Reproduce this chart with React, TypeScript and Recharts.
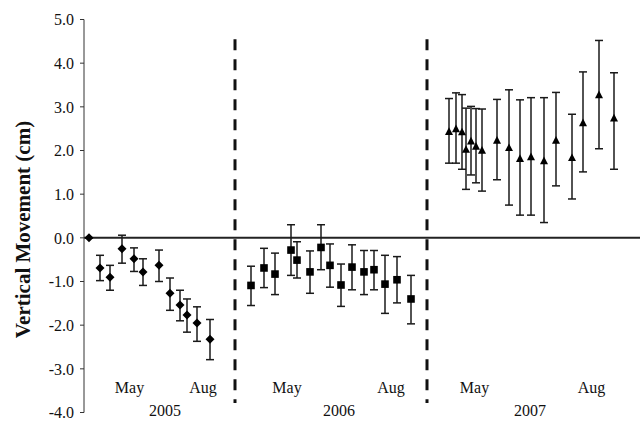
import React from "react";
import {
  ScatterChart,
  Scatter,
  XAxis,
  YAxis,
  ErrorBar,
  ReferenceLine,
} from "recharts";

// sampling positions along a compressed survey timeline (0 = left axis)
const t2005 = [5, 16, 26, 38, 50, 59, 75, 86, 96, 103, 113, 126];
const v2005 = [0, -0.69, -0.9, -0.25, -0.48, -0.78, -0.63, -1.27, -1.54, -1.77, -1.95, -2.32];
const lo2005 = [0, -0.98, -1.2, -0.58, -0.77, -1.09, -1.0, -1.66, -1.9, -2.16, -2.37, -2.79];
const hi2005 = [0, -0.4, -0.63, 0.06, -0.23, -0.48, -0.28, -0.92, -1.2, -1.4, -1.58, -1.87];

const t2006 = [167, 180, 191, 207, 213, 226, 237, 246, 257, 268, 280, 290, 301, 313, 327];
const v2006 = [-1.09, -0.69, -0.83, -0.28, -0.51, -0.78, -0.22, -0.63, -1.08, -0.67, -0.78, -0.73, -1.06, -0.96, -1.4];
const lo2006 = [-1.55, -1.14, -1.3, -0.86, -0.92, -1.27, -0.73, -1.13, -1.57, -1.19, -1.3, -1.19, -1.73, -1.49, -1.97];
const hi2006 = [-0.65, -0.24, -0.35, 0.3, -0.09, -0.3, 0.3, -0.14, -0.6, -0.16, -0.29, -0.29, -0.4, -0.43, -0.86];

const t2007 = [365, 372, 378, 382, 387, 392, 398, 413, 425, 436, 447, 460, 472, 488, 499, 515, 530];
const v2007 = [2.43, 2.49, 2.42, 2.02, 2.21, 2.09, 2.0, 2.23, 2.06, 1.81, 1.85, 1.76, 2.23, 1.83, 2.63, 3.27, 2.74];
const lo2007 = [1.71, 1.71, 1.57, 1.11, 1.44, 1.26, 1.07, 1.33, 0.75, 0.52, 0.52, 0.35, 1.19, 0.89, 1.51, 2.04, 1.57];
const hi2007 = [3.19, 3.32, 3.28, 2.97, 3.01, 2.96, 2.95, 3.17, 3.39, 3.16, 3.21, 3.21, 3.33, 2.83, 3.8, 4.52, 3.78];

const monthTicks = [45.5, 119, 203, 307, 390.5, 507.5];
const monthLabels = ["May", "Aug", "May", "Aug", "May", "Aug"];
const yearTicks = [81, 255, 446];
const yearLabels = ["2005", "2006", "2007"];
const seasonBreaks = [151, 343];
const yTicks = [-4, -3, -2, -1, 0, 1, 2, 3, 4, 5];

const FONT = '"Liberation Serif", "Times New Roman", serif';
const INK = "#1a1a1a";

function build(t: number[], v: number[], lo: number[], hi: number[]) {
  return t.map((x, i) => ({ t: x, v: v[i], err: [v[i] - lo[i], hi[i] - v[i]] }));
}

const d2005 = build(t2005, v2005, lo2005, hi2005);
const d2006 = build(t2006, v2006, lo2006, hi2006);
const d2007 = build(t2007, v2007, lo2007, hi2007);

const allXTicks = [...monthTicks, ...yearTicks].sort((a, b) => a - b);

const Diamond = (p: any) => (
  <polygon
    points={`${p.cx},${p.cy - 4.5} ${p.cx + 4.5},${p.cy} ${p.cx},${p.cy + 4.5} ${p.cx - 4.5},${p.cy}`}
    fill="#000"
  />
);
const Square = (p: any) => <rect x={p.cx - 3.8} y={p.cy - 3.8} width={7.6} height={7.6} fill="#000" />;
const Triangle = (p: any) => (
  <polygon
    points={`${p.cx},${p.cy - 4.5} ${p.cx + 4},${p.cy + 3.2} ${p.cx - 4},${p.cy + 3.2}`}
    fill="#000"
  />
);

// month names sit inside the plot, the year line just under them
const TimeTick = (p: any) => {
  const v = p.payload.value;
  const mi = monthTicks.findIndex((t) => Math.abs(t - v) < 0.01);
  const yi = yearTicks.findIndex((t) => Math.abs(t - v) < 0.01);
  const text = mi >= 0 ? monthLabels[mi] : yi >= 0 ? yearLabels[yi] : "";
  const y = mi >= 0 ? p.y - 19.5 : p.y + 3.5;
  return (
    <text x={p.x} y={y} textAnchor="middle" fontSize={16} fontFamily={FONT} fill="#111">
      {text}
    </text>
  );
};

export default function App() {
  return (
    <div style={{ position: "absolute", left: 0, top: 0, background: "#fff" }}>
      <ScatterChart width={644} height={421} margin={{ top: 19.5, right: 4, bottom: 0, left: 0 }}>
        <XAxis
          type="number"
          dataKey="t"
          domain={[0, 556]}
          ticks={allXTicks}
          axisLine={false}
          tickLine={false}
          tickSize={0}
          tickMargin={0}
          height={8.5}
          interval={0}
          tick={(p: any) => <TimeTick {...p} />}
        />
        <YAxis
          type="number"
          dataKey="v"
          domain={[-4, 5]}
          ticks={yTicks}
          interval={0}
          width={84}
          tickFormatter={(v: number) => v.toFixed(1)}
          tickSize={4}
          tickMargin={6}
          axisLine={{ stroke: "#333" }}
          tickLine={{ stroke: "#333" }}
          tick={{ fill: "#111", fontSize: 16, fontFamily: FONT }}
          label={{
            content: (props: any) => {
              const vb = props.viewBox;
              const cx = vb.x + 30;
              const cy = vb.y + vb.height / 2 + 13.5;
              return (
                <text
                  transform={`translate(${cx},${cy}) rotate(-90)`}
                  textAnchor="middle"
                  fontSize={21}
                  fontWeight="bold"
                  fontFamily={FONT}
                  fill="#111"
                >
                  Vertical Movement (cm)
                </text>
              );
            },
          }}
        />
        <ReferenceLine y={0} stroke="#222" strokeWidth={2} />
        {seasonBreaks.map((x) => (
          <ReferenceLine
            key={x}
            segment={[
              { x, y: 4.55 },
              { x, y: -3.78 },
            ]}
            stroke="#111"
            strokeWidth={3}
            strokeDasharray="11 9"
          />
        ))}
        <Scatter data={d2005} shape={Diamond} isAnimationActive={false}>
          <ErrorBar dataKey="err" direction="y" width={4} stroke={INK} strokeWidth={1.5} />
        </Scatter>
        <Scatter data={d2006} shape={Square} isAnimationActive={false}>
          <ErrorBar dataKey="err" direction="y" width={4} stroke={INK} strokeWidth={1.5} />
        </Scatter>
        <Scatter data={d2007} shape={Triangle} isAnimationActive={false}>
          <ErrorBar dataKey="err" direction="y" width={4} stroke={INK} strokeWidth={1.5} />
        </Scatter>
      </ScatterChart>
    </div>
  );
}
